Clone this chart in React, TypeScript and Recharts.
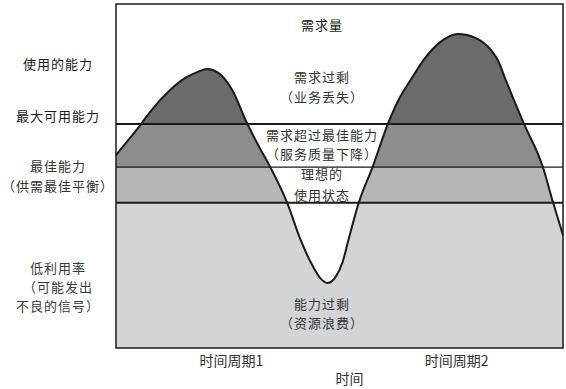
import React from 'react';
import { ComposedChart, Area, XAxis, YAxis, ReferenceLine, ReferenceArea, Label } from 'recharts';

// demand curve (time 0-100, demand 0-100)
const time = [0, 3.1, 5.6, 7.6, 12.1, 15.5, 18.2, 20.4, 22.9, 26.0, 29.4, 31.8, 34.5, 38.3, 41.3, 43.9, 45.7, 47.3, 49.1, 50.7, 52.0, 54.3, 57.4, 60.8, 63.2, 65.9, 68.8, 72.6, 76.5, 80.5, 83.9, 85.4, 87.2, 89.0, 91.3, 95.5, 97.8, 100];
const demand = [56.1, 61.0, 65.1, 68.6, 75.0, 78.5, 80.2, 81.1, 80.0, 75.0, 65.1, 59.0, 52.6, 42.2, 31.4, 24.1, 20.3, 18.9, 20.6, 25.0, 31.4, 42.2, 52.6, 65.1, 72.1, 77.9, 83.7, 89.0, 91.3, 90.1, 86.6, 83.7, 77.9, 72.1, 65.1, 52.6, 42.2, 32.8];

// capacity levels
const maxCapacity = 65.1;
const bestUpper = 52.6;
const bestLower = 42.2;

const periodTicks = [25.8, 76.2];
const periodLabels = ['时间周期1', '时间周期2'];

const bandColors = ['#6b6b6b', '#8d8d8d', '#b5b6b7', '#d3d4d6'];

const data = time.map((t, i) => ({ t, demand: demand[i] }));

const font = '"Noto Sans CJK SC", "Noto Sans", sans-serif';

const leftLabels = [
  { text: '使用的能力', top: 56, color: '#1a1a1a' },
  { text: '最大可用能力', top: 108, color: '#1a1a1a' },
  { text: '最佳能力', top: 158, color: '#333' },
  { text: '（供需最佳平衡）', top: 178, color: '#333' },
  { text: '低利用率', top: 260, color: '#3a3a3a' },
  { text: '（可能发出', top: 279, color: '#3a3a3a' },
  { text: '不良的信号）', top: 298, color: '#3a3a3a' },
];

const innerLabels = [
  { text: '需求量', top: 17, color: '#1a1a1a' },
  { text: '需求过剩', top: 69, color: '#333' },
  { text: '（业务丢失）', top: 89, color: '#333' },
  { text: '需求超过最佳能力', top: 127, color: '#333' },
  { text: '（服务质量下降）', top: 146, color: '#333' },
  { text: '理想的', top: 166, color: '#333' },
  { text: '使用状态', top: 187, color: '#333' },
  { text: '能力过剩', top: 296, color: '#333' },
  { text: '（资源浪费）', top: 315, color: '#333' },
];

const labelStyle: React.CSSProperties = {
  position: 'absolute',
  textAlign: 'center',
  fontSize: 13,
  letterSpacing: 1,
  lineHeight: '15px',
  whiteSpace: 'nowrap',
};

const App: React.FC = () => {
  const peak = Math.max(...demand);
  const off = (v: number) => (peak - v) / peak;
  const stops = [
    [0, off(maxCapacity), bandColors[0]],
    [off(maxCapacity), off(bestUpper), bandColors[1]],
    [off(bestUpper), off(bestLower), bandColors[2]],
    [off(bestLower), 1, bandColors[3]],
  ] as [number, number, string][];

  return (
    <div style={{ position: 'absolute', left: 0, top: 0, width: 566, height: 389, background: '#fff', fontFamily: font }}>
      <ComposedChart width={566} height={389} data={data} margin={{ top: 4, right: 3, left: 116, bottom: 0 }} style={{ fontFamily: font }}>
        <defs>
          <linearGradient id="bands" x1="0" y1="0" x2="0" y2="1">
            {stops.map(([a, b, c], i) => (
              <React.Fragment key={i}>
                <stop offset={a} stopColor={c} />
                <stop offset={b} stopColor={c} />
              </React.Fragment>
            ))}
          </linearGradient>
        </defs>
        <XAxis
          dataKey="t"
          type="number"
          domain={[0, 100]}
          ticks={periodTicks}
          tickFormatter={(v: number) => periodLabels[periodTicks.indexOf(v)]}
          axisLine={false}
          tickLine={false}
          height={41}
          tick={{ fontSize: 14, fill: '#333', fontFamily: font }}
        >
          <Label value="时间" position="insideBottom" offset={5} dx={10} style={{ fontSize: 14, fill: '#333', fontFamily: font }} />
        </XAxis>
        <YAxis hide type="number" domain={[0, 100]} />
        <Area
          type="monotone"
          dataKey="demand"
          stroke="#1a1a1a"
          strokeWidth={2}
          fill="url(#bands)"
          fillOpacity={1}
          isAnimationActive={false}
          dot={false}
          activeDot={false}
        />
        <ReferenceLine y={maxCapacity} stroke="#1a1a1a" strokeWidth={2} />
        <ReferenceLine y={bestUpper} stroke="#1a1a1a" strokeWidth={1.3} />
        <ReferenceLine y={bestLower} stroke="#1a1a1a" strokeWidth={2} />
        <ReferenceArea x1={0} x2={100} y1={0} y2={100} fill="none" stroke="#1a1a1a" strokeWidth={1.5} />
      </ComposedChart>
      {leftLabels.map((l, i) => (
        <div key={'l' + i} style={{ ...labelStyle, left: 0, width: 116, top: l.top, color: l.color }}>
          {l.text}
        </div>
      ))}
      {innerLabels.map((l, i) => (
        <div key={'i' + i} style={{ ...labelStyle, left: 222, width: 200, top: l.top, color: l.color }}>
          {l.text}
        </div>
      ))}
    </div>
  );
};

export default App;
